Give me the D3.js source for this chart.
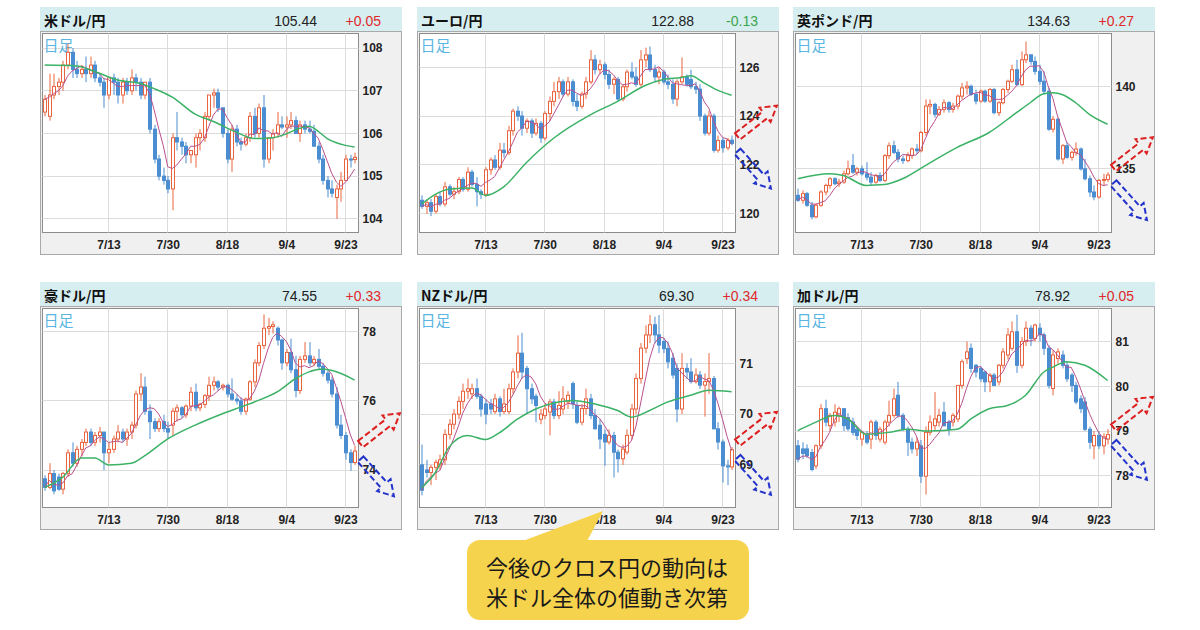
<!DOCTYPE html>
<html>
<head>
<meta charset="utf-8">
<script src="https://cdn.jsdelivr.net/npm/d3@7"></script>
<style>
  body { margin: 0; background: #fff; }
  svg { display: block; }
</style>
</head>
<body>
<svg id="chart" width="1200" height="630"></svg>
<script>
// ---- data ----
const pairNames = ['米ドル/円', 'ユーロ/円', '英ポンド/円', '豪ドル/円', 'NZドル/円', '加ドル/円'];
const lastPrices = ['105.44', '122.88', '134.63', '74.55', '69.30', '78.92'];
const changes = ['+0.05', '-0.13', '+0.27', '+0.33', '+0.34', '+0.05'];
const yTicks = [[104, 105, 106, 107, 108], [120, 122, 124, 126], [135, 140], [74, 76, 78], [69, 70, 71], [78, 79, 80, 81]];
const yDomains = [[103.68, 108.34], [119.23, 127.38], [131.15, 143.19], [72.92, 78.67], [68.16, 72.08], [77.29, 81.74]];
const xTickLabels = ['7/13', '7/30', '8/18', '9/4', '9/23'];

// trading days 6/23 - 9/25
const dates = d3.utcDay
  .range(new Date(Date.UTC(2020, 5, 23)), new Date(Date.UTC(2020, 8, 26)))
  .filter((d) => d.getUTCDay() % 6 !== 0);
const fmtDay = d3.utcFormat('%-m/%-d');

// [open, high, low, close]
const usdjpy = [
  [106.5,106.9,106.4,106.8],[106.4,107.4,106.3,106.9],[106.9,107.4,106.8,107.1],[107.1,107.3,106.9,107.2],
  [107.2,107.7,107.0,107.6],[107.6,108.1,107.5,107.9],[107.9,108.0,107.3,107.5],[107.5,107.7,107.3,107.4],
  [107.4,107.6,107.3,107.5],[107.5,107.8,107.2,107.4],[107.4,107.8,107.3,107.6],[107.6,107.7,107.2,107.3],
  [107.3,107.4,107.1,107.2],[107.2,107.3,106.6,106.9],[106.9,107.3,106.8,107.3],[107.3,107.4,106.9,107.2],
  [107.2,107.3,106.7,106.9],[106.9,107.3,106.7,107.2],[107.2,107.3,106.9,107.0],[107.0,107.5,106.9,107.3],
  [107.3,107.4,107.0,107.2],[107.2,107.3,106.8,106.9],[106.9,107.2,106.8,107.2],[107.2,107.3,106.0,106.1],
  [106.1,106.2,105.3,105.4],[105.4,105.5,104.9,105.0],[105.0,105.2,104.8,104.9],[104.9,105.0,104.6,104.7],
  [104.7,106.0,104.2,105.9],[105.9,106.5,105.6,105.8],[105.8,105.9,105.5,105.7],[105.7,105.8,105.3,105.5],
  [105.5,105.6,105.3,105.6],[105.5,106.0,105.2,105.9],[105.9,106.1,105.6,106.0],[105.9,106.5,105.8,106.4],
  [106.4,106.9,106.3,106.9],[106.9,107.05,106.6,106.95],[106.95,107.05,106.5,106.6],[106.6,106.6,105.9,106.0],
  [106.0,106.1,105.3,105.4],[105.4,106.2,105.1,106.1],[106.1,106.2,105.7,105.8],[105.8,105.9,105.6,105.75],
  [105.75,106.0,105.7,105.9],[105.9,106.5,105.8,106.4],[106.4,106.6,105.9,106.0],[106.0,106.7,105.9,106.6],
  [106.6,106.9,105.2,105.4],[105.4,105.9,105.3,105.9],[105.9,106.1,105.6,106.0],[106.0,106.5,105.9,106.2],
  [106.2,106.4,106.1,106.15],[106.15,106.4,105.9,106.2],[106.2,106.5,106.1,106.3],[106.3,106.4,106.0,106.0],
  [106.0,106.3,105.8,106.2],[106.2,106.3,106.0,106.1],[106.1,106.3,106.0,106.05],[106.05,106.2,105.7,105.7],
  [105.7,105.8,105.3,105.4],[105.4,105.5,104.8,104.9],[104.9,105.0,104.5,104.7],[104.7,104.9,104.5,104.6],
  [104.5,104.8,104.0,104.7],[104.7,105.1,104.4,104.9],[104.9,105.5,104.9,105.4],[105.4,105.5,105.2,105.39],
  [105.39,105.55,105.3,105.44]
];
const eurjpy = [
  [120.55,120.75,120.2,120.3],[120.3,120.6,120.0,120.45],[120.45,120.6,119.9,120.1],[120.1,120.8,120.0,120.7],
  [120.7,120.9,120.3,120.4],[120.4,121.3,120.3,121.1],[121.1,121.2,120.7,120.8],[120.8,121.1,120.6,120.9],
  [120.9,121.5,120.8,121.4],[121.4,121.5,120.9,121.0],[121.0,121.9,120.9,121.7],[121.7,121.8,121.1,121.2],
  [121.2,121.5,120.3,120.9],[120.9,121.0,120.6,120.8],[120.8,121.9,120.7,121.8],[121.8,122.3,121.6,122.2],
  [122.2,122.4,121.8,121.9],[121.9,122.9,121.8,122.6],[122.6,122.9,122.3,122.5],[122.5,123.6,122.4,123.4],
  [123.4,124.3,123.2,124.2],[124.2,124.4,123.8,124.0],[124.0,124.2,123.2,123.5],[123.5,123.9,123.3,123.8],
  [123.8,123.9,123.1,123.3],[123.3,123.9,123.2,123.7],[123.7,123.8,122.9,123.1],[123.1,124.2,123.0,124.1],
  [124.1,124.8,123.8,124.6],[124.6,125.4,124.4,125.0],[125.0,125.6,124.7,125.4],[125.4,125.5,124.8,124.9],
  [124.9,125.6,124.8,125.4],[125.4,125.5,124.4,124.6],[124.6,124.9,124.2,124.4],[124.4,125.0,124.3,124.9],
  [124.9,125.6,124.7,125.4],[125.4,126.7,125.3,126.3],[126.3,126.5,125.7,125.9],[125.9,126.3,125.7,126.1],
  [126.1,126.2,125.5,125.7],[125.7,125.9,125.1,125.3],[125.3,125.6,124.9,125.5],[125.5,125.6,124.6,124.7],
  [124.7,125.3,124.6,125.2],[125.2,125.9,125.0,125.8],[125.8,126.2,125.5,125.6],[125.6,126.0,125.2,125.3],
  [125.3,126.7,125.2,126.3],[126.3,126.8,126.0,126.5],[126.5,126.85,125.8,125.9],[125.9,126.1,125.4,125.6],
  [125.6,126.0,125.3,125.8],[125.8,125.9,125.3,125.4],[125.4,125.7,125.1,125.3],[125.3,125.5,124.5,124.7],
  [124.7,125.5,124.4,125.4],[125.4,126.4,125.3,125.6],[125.6,125.7,125.2,125.3],[125.5,125.9,125.1,125.2],
  [125.2,125.4,124.9,125.1],[125.1,125.3,123.8,124.0],[124.0,124.1,123.2,123.3],[123.3,124.2,123.2,124.0],
  [124.0,124.1,122.5,122.6],[122.6,123.2,122.5,123.0],[123.0,123.1,122.5,122.7],[122.7,123.1,122.6,123.01],
  [123.01,123.2,122.8,122.88]
];
const gbpjpy = [
  [133.4,133.8,133.0,133.1],[133.1,133.7,132.9,133.5],[133.5,133.6,132.7,132.8],[132.8,133.0,131.95,132.1],
  [132.1,132.9,132.0,132.8],[132.8,133.7,132.7,133.6],[133.6,134.1,133.4,134.0],[134.0,134.5,133.8,134.4],
  [134.4,134.5,134.0,134.1],[134.1,134.4,133.9,134.2],[134.2,134.9,134.1,134.7],[134.7,135.5,134.6,135.0],
  [135.2,135.9,134.7,134.8],[134.8,135.1,134.6,135.0],[135.0,135.2,134.6,134.7],[134.7,135.4,134.3,134.5],
  [134.5,134.8,134.0,134.2],[134.2,134.7,134.1,134.6],[134.6,134.8,134.2,134.3],[134.3,135.9,134.2,135.8],
  [135.8,136.6,135.6,136.4],[136.4,136.7,135.9,136.0],[136.0,136.2,135.4,135.6],[135.6,135.8,135.3,135.5],
  [135.5,136.0,135.4,135.8],[135.8,136.3,135.6,136.2],[136.2,136.5,135.9,136.1],[136.1,137.3,136.0,137.2],
  [137.2,139.2,137.0,138.8],[138.8,139.2,138.3,138.9],[138.9,139.0,138.1,138.3],[138.3,138.8,138.2,138.6],
  [138.6,139.2,138.4,139.0],[139.0,139.1,138.4,138.6],[138.6,139.0,138.4,138.8],[138.8,139.5,138.6,139.4],
  [139.4,140.2,139.2,139.9],[139.9,140.3,139.5,140.0],[140.0,140.1,139.4,139.5],[139.5,139.8,138.9,139.1],
  [139.1,139.8,139.0,139.7],[139.7,139.8,139.0,139.1],[139.1,139.9,139.0,139.8],[139.8,139.9,138.3,138.4],
  [138.4,139.1,138.2,139.0],[139.0,139.9,138.9,139.8],[139.8,140.4,139.6,140.3],[140.3,141.3,140.2,141.0],
  [141.0,141.6,140.0,140.1],[140.1,142.1,140.0,141.6],[141.6,142.7,141.4,141.9],[141.9,141.9,141.3,141.5],
  [141.5,141.8,140.7,140.9],[140.9,141.3,140.1,140.3],[140.3,140.9,139.5,139.7],[139.7,139.9,137.3,137.4],
  [137.4,138.2,137.2,138.0],[138.0,138.1,135.5,135.6],[135.6,136.5,135.3,136.4],[136.4,136.6,135.6,135.7],
  [135.7,136.1,135.5,136.0],[136.0,136.6,135.8,136.2],[136.2,136.3,134.9,135.0],[135.0,135.6,134.3,134.4],
  [134.4,134.6,133.3,133.6],[133.6,134.0,133.1,133.3],[133.3,134.4,133.2,134.3],[134.3,134.7,134.0,134.36],
  [134.36,134.8,134.2,134.63]
];
const audjpy = [
  [73.75,73.85,73.4,73.5],[73.5,74.2,73.45,73.9],[73.9,74.0,73.3,73.4],[73.8,73.9,73.4,73.45],
  [73.45,73.95,73.3,73.9],[73.9,74.6,73.8,74.5],[74.5,74.8,74.1,74.2],[74.2,74.7,74.1,74.6],
  [74.6,74.9,74.4,74.8],[74.8,75.2,74.7,75.1],[75.1,75.2,74.7,74.8],[74.8,75.1,74.7,75.0],
  [75.0,75.25,74.8,75.1],[75.1,75.1,74.0,74.5],[74.5,74.8,74.2,74.6],[74.6,75.0,74.5,74.9],
  [74.9,75.3,74.8,75.1],[75.1,75.2,74.8,74.9],[74.9,75.2,74.7,75.1],[75.1,75.4,74.9,75.3],
  [75.3,76.3,75.2,76.2],[76.2,76.8,76.0,76.4],[76.4,76.7,75.6,75.7],[75.7,75.9,74.9,75.4],
  [75.4,75.5,75.1,75.2],[75.2,75.5,75.1,75.4],[75.4,75.6,75.1,75.2],[75.2,75.4,74.9,75.1],
  [75.3,75.8,75.0,75.7],[75.7,75.9,75.4,75.8],[75.8,75.85,75.5,75.6],[75.6,75.9,75.5,75.85],
  [75.85,76.4,75.7,76.25],[76.25,76.5,75.7,75.8],[75.8,75.95,75.7,75.9],[75.9,76.2,75.8,76.15],
  [76.15,76.7,76.0,76.45],[76.45,76.7,76.3,76.55],[76.55,76.6,76.3,76.4],[76.4,76.5,76.3,76.45],
  [76.45,76.5,76.1,76.2],[76.2,76.65,76.0,76.05],[76.05,76.2,75.9,76.0],[76.0,76.1,75.6,75.7],
  [75.7,76.1,75.6,76.05],[76.05,76.6,76.0,76.55],[76.55,77.2,76.4,77.1],[77.1,77.7,77.0,77.6],
  [77.6,78.5,77.5,78.1],[78.1,78.4,77.9,78.15],[78.15,78.3,77.95,78.2],[78.1,78.15,77.6,77.76],
  [77.76,77.8,76.9,77.1],[77.1,77.5,77.0,77.4],[77.4,77.8,76.8,76.9],[76.9,77.3,76.1,76.3],
  [76.3,77.3,76.2,77.2],[77.2,77.7,77.1,77.3],[77.3,77.7,77.0,77.1],[77.1,77.3,77.0,77.2],
  [77.2,77.5,76.9,77.0],[77.0,77.1,76.7,76.8],[76.8,76.9,76.5,76.6],[76.6,76.7,76.1,76.2],
  [76.2,76.4,75.2,75.3],[75.3,75.6,74.9,75.0],[75.0,75.1,74.3,74.5],[74.5,74.6,73.98,74.22],
  [74.22,74.7,74.15,74.55]
];
const nzdjpy = [
  [69.0,69.4,68.4,68.5],[68.9,69.1,68.75,68.85],[68.85,69.0,68.6,68.95],[68.95,69.1,68.7,69.05],
  [69.0,69.2,68.9,69.1],[69.1,69.7,69.0,69.6],[69.6,69.9,69.5,69.8],[69.8,70.1,69.7,70.0],
  [70.0,70.35,69.9,70.25],[70.25,70.6,70.1,70.45],[70.45,70.7,70.3,70.5],[70.4,70.6,70.3,70.5],
  [70.5,70.7,70.3,70.35],[70.35,70.4,69.95,70.1],[70.2,70.3,69.8,70.0],[70.2,70.3,70.0,70.1],
  [70.05,70.4,70.0,70.3],[70.3,70.35,69.95,70.05],[70.05,70.5,70.0,70.2],[70.05,70.6,70.0,70.5],
  [70.5,70.9,70.4,70.83],[70.83,71.55,70.7,71.2],[71.2,71.6,70.7,70.83],[70.9,70.95,70.0,70.5],
  [70.5,70.6,70.2,70.3],[70.35,70.4,69.84,70.17],[69.9,70.1,69.8,70.0],[69.97,70.2,69.9,70.1],
  [70.04,70.3,69.58,70.24],[70.24,70.3,69.9,69.97],[69.97,70.45,69.9,70.17],[70.1,70.55,70.0,70.3],
  [70.24,70.45,70.1,70.37],[70.6,70.64,70.1,70.2],[70.17,70.25,69.8,69.84],[69.84,70.2,69.78,70.11],
  [70.11,70.5,70.0,70.3],[70.3,70.4,69.9,69.97],[69.97,70.1,69.7,69.71],[69.78,69.9,69.31,69.51],
  [69.6,69.7,68.98,69.45],[69.45,69.7,69.4,69.58],[69.58,69.65,68.75,69.25],[69.25,69.3,68.85,69.12],
  [69.12,69.4,69.0,69.31],[69.25,69.7,69.2,69.58],[69.58,70.2,69.5,70.1],[70.1,70.8,70.0,70.7],
  [70.7,71.4,70.6,71.3],[71.3,71.75,71.2,71.56],[71.56,71.95,71.4,71.76],[71.76,71.92,71.4,71.56],
  [71.56,71.95,71.2,71.36],[71.43,71.5,71.2,71.29],[71.29,71.43,70.9,71.03],[71.1,71.2,70.7,70.77],
  [70.9,71.0,69.84,70.1],[70.1,71.2,70.0,70.9],[70.9,71.0,70.7,70.83],[70.83,71.1,70.6,70.64],
  [70.64,70.9,70.6,70.77],[70.77,70.85,70.5,70.57],[70.57,70.8,69.95,70.64],[70.64,71.2,70.4,70.7],
  [70.7,70.75,69.7,69.71],[69.71,69.84,69.3,69.45],[69.45,69.5,68.65,68.98],[68.98,69.1,68.6,68.96],
  [68.96,69.35,68.9,69.30]
];
const cadjpy = [
  [78.67,78.8,78.3,78.37],[78.6,78.75,78.37,78.5],[78.6,78.7,78.4,78.45],[78.52,78.6,78.1,78.14],
  [78.22,78.7,78.15,78.67],[78.67,79.6,78.6,79.5],[79.5,79.7,79.1,79.2],[79.12,79.4,79.0,79.35],
  [79.2,79.6,79.1,79.42],[79.35,79.55,79.2,79.5],[79.5,79.5,79.0,79.12],[79.3,79.4,79.0,79.05],
  [79.2,79.3,78.9,78.97],[79.04,79.1,78.8,78.9],[78.82,79.0,78.67,78.97],[78.9,79.0,78.7,78.75],
  [78.82,79.25,78.6,79.2],[79.2,79.25,78.8,78.9],[78.82,79.1,78.75,79.04],[78.75,79.25,78.7,79.2],
  [79.2,79.68,79.1,79.35],[79.35,79.95,79.3,79.72],[79.8,80.1,79.3,79.35],[79.35,79.4,79.0,79.04],
  [79.04,79.1,78.44,78.75],[78.75,78.85,78.5,78.6],[78.6,78.85,78.44,78.75],[78.67,78.8,77.84,77.99],
  [77.99,79.1,77.58,78.97],[78.97,79.35,78.9,79.2],[79.12,79.87,79.0,79.27],[79.2,79.5,79.1,79.35],
  [79.42,79.65,79.1,79.12],[79.2,79.25,78.9,79.04],[79.2,79.4,79.1,79.35],[79.27,80.02,79.2,80.02],
  [80.02,80.6,79.95,80.55],[80.62,81.0,80.5,80.77],[80.85,80.96,80.3,80.4],[80.47,80.5,80.2,80.32],
  [80.4,80.45,80.1,80.17],[80.32,80.35,79.87,80.1],[80.1,80.3,79.87,80.25],[80.25,80.3,80.0,80.02],
  [80.1,80.5,80.02,80.47],[80.47,80.85,80.4,80.77],[80.7,81.3,80.6,81.15],[80.85,81.45,80.8,81.22],
  [81.22,81.6,80.3,80.47],[80.47,81.1,80.4,81.0],[81.0,81.45,80.9,81.3],[81.3,81.37,80.9,81.07],
  [81.07,81.4,81.0,81.37],[81.3,81.41,81.0,81.15],[81.15,81.2,80.7,80.85],[80.85,80.92,79.95,80.02],
  [79.95,80.8,79.8,80.7],[80.62,80.85,80.5,80.77],[80.7,80.8,80.4,80.47],[80.47,80.55,80.1,80.17],
  [80.25,80.3,79.87,80.02],[80.02,80.1,79.6,79.65],[79.72,79.8,79.4,79.5],[79.65,79.76,79.0,79.04],
  [79.04,79.1,78.6,78.75],[78.67,79.0,78.37,78.9],[78.9,79.0,78.6,78.67],[78.67,78.95,78.48,78.87],
  [78.82,79.04,78.7,78.92]
];

// 25-day moving average: [day index, value]
const usdjpyMa25 = [[0,107.6],[7,107.58],[11,107.45],[16,107.25],[21,107.17],[24,107.05],[28,106.85],[33,106.45],[37,106.28],[42,106.03],[46,105.88],[50,105.9],[52,105.95],[56,106.12],[58,106.17],[60,106.05],[62,105.88],[64,105.78],[66,105.72],[68,105.68]];
const eurjpyMa25 = [[0,120.4],[6,121.0],[11,121.05],[14,120.75],[18,121.1],[23,122.1],[29,123.1],[37,124.05],[43,124.6],[49,125.25],[53,125.5],[57,125.58],[59,125.65],[62,125.35],[65,125.05],[68,124.85]];
const gbpjpyMa25 = [[0,134.4],[7,134.7],[10,134.6],[15,134.0],[19,134.05],[23,134.4],[28,135.2],[35,136.3],[42,137.2],[48,138.4],[51,139.0],[54,139.55],[56,139.6],[58,139.5],[61,139.0],[64,138.3],[68,137.7]];
const audjpyMa25 = [[0,73.5],[4,73.8],[8,74.35],[11,74.35],[14,74.15],[19,74.2],[22,74.42],[27,74.9],[33,75.3],[39,75.63],[44,75.87],[46,75.97],[51,76.26],[55,76.64],[58,76.84],[61,76.92],[64,76.84],[68,76.6]];
const nzdjpyMa25 = [[0,68.55],[3,68.85],[6,69.35],[10,69.58],[14,69.5],[17,69.63],[21,69.9],[25,70.1],[30,70.24],[33,70.27],[38,70.2],[43,70.07],[46,69.94],[50,70.07],[54,70.24],[59,70.37],[63,70.47],[68,70.44]];
const cadjpyMa25 = [[0,79.01],[4,79.2],[8,79.35],[11,79.27],[15,78.93],[20,78.97],[24,79.04],[29,79.0],[35,79.04],[38,79.27],[42,79.5],[46,79.57],[50,79.8],[54,80.32],[56,80.43],[59,80.55],[63,80.47],[68,80.13]];

const candles = [usdjpy, eurjpy, gbpjpy, audjpy, nzdjpy, cadjpy];
const ma25 = [usdjpyMa25, eurjpyMa25, gbpjpyMa25, audjpyMa25, nzdjpyMa25, cadjpyMa25];
const showArrows = [false, true, true, true, true, true];

const calloutLines = ['今後のクロス円の動向は', '米ドル全体の値動き次第'];

// ---- layout ----
const panelX = [40, 417, 793];
const panelY = [7, 282];
const panelW = 362;
const headerH = 24;
const plotLeft = 2, plotTop = 26, plotW = 316, plotH = 199;
const bodyH = 247;

const upColor = '#e8643f';
const downColor = '#4a8dd0';
const jpFont = '"Noto Sans CJK JP", sans-serif';
const numFont = '"Liberation Sans", Arial, sans-serif';

const svg = d3.select('#chart');

// x scale shared by all panels (day index)
const x = d3.scaleLinear().domain([-0.48, 68.85]).range([0, plotW]);
const dayLabels = dates.map(fmtDay);

// fat arrow outline pointing along +x, rotated later
const arrowShape = (len, shaftW, headW, headL) => [
  [0, -shaftW], [len - headL, -shaftW], [len - headL, -headW], [len, 0],
  [len - headL, headW], [len - headL, shaftW], [0, shaftW]
];

candles.forEach((data, k) => {
  const col = k % 3, row = Math.floor(k / 3);
  const g = svg.append('g').attr('transform', `translate(${panelX[col]},${panelY[row]})`);

  // header band
  g.append('rect').attr('x', 0).attr('y', 0).attr('width', panelW).attr('height', headerH).attr('fill', '#d7eef1');
  g.append('text').attr('x', 4).attr('y', 19).attr('font-family', jpFont).attr('font-weight', 'bold')
    .attr('font-size', 14).attr('fill', '#111').text(pairNames[k]);
  g.append('text').attr('x', 277).attr('y', 19).attr('text-anchor', 'end').attr('font-family', numFont)
    .attr('font-size', 14).attr('fill', '#222').text(lastPrices[k]);
  g.append('text').attr('x', 341).attr('y', 19).attr('text-anchor', 'end').attr('font-family', numFont)
    .attr('font-size', 14).attr('fill', changes[k].startsWith('-') ? '#3aa54a' : '#e0282a').text(changes[k]);

  // body frame (grey) and white plot area
  g.append('rect').attr('x', 0.5).attr('y', headerH + 0.5).attr('width', panelW - 1).attr('height', bodyH - headerH)
    .attr('fill', '#f1f0f0').attr('stroke', '#a9a9a9');
  g.append('rect').attr('x', plotLeft + 0.5).attr('y', plotTop + 0.5).attr('width', plotW).attr('height', plotH)
    .attr('fill', '#fff').attr('stroke', '#8c8c8c');

  const plot = g.append('g').attr('transform', `translate(${plotLeft + 0.5},${plotTop + 0.5})`);
  const y = d3.scaleLinear().domain(yDomains[k]).range([plotH, 0]);

  plot.append('clipPath').attr('id', `clip${k}`)
    .append('rect').attr('width', plotW).attr('height', plotH);

  // grid lines
  const tickIdx = xTickLabels.map((t) => dayLabels.indexOf(t));
  plot.selectAll('.vgrid').data(tickIdx).join('line')
    .attr('x1', (d) => Math.round(x(d))).attr('x2', (d) => Math.round(x(d)))
    .attr('y1', 0).attr('y2', plotH).attr('stroke', '#dcdcdc');
  plot.selectAll('.hgrid').data(yTicks[k]).join('line')
    .attr('x1', 0).attr('x2', plotW)
    .attr('y1', (d) => Math.round(y(d))).attr('y2', (d) => Math.round(y(d))).attr('stroke', '#dcdcdc');

  // "日足" label
  plot.append('text').attr('x', 1).attr('y', 17).attr('font-family', jpFont).attr('font-size', 15)
    .attr('fill', '#5bb5e2').text('日足');

  // axes labels
  const yAxis = d3.axisRight(y).tickValues(yTicks[k]).tickFormat(d3.format('d')).tickSize(0).tickPadding(4);
  plot.append('g').attr('transform', `translate(${plotW},0)`).call(yAxis)
    .call((a) => a.select('.domain').remove())
    .call((a) => a.selectAll('text').attr('font-family', numFont).attr('font-size', 12)
      .attr('font-weight', 'bold').attr('fill', '#222'));
  const xAxis = d3.axisBottom(x).tickValues(tickIdx).tickFormat((d) => dayLabels[d]).tickSize(0).tickPadding(8);
  plot.append('g').attr('transform', `translate(0,${plotH})`).call(xAxis)
    .call((a) => a.select('.domain').remove())
    .call((a) => a.selectAll('text').attr('font-family', numFont).attr('font-size', 12)
      .attr('font-weight', 'bold').attr('fill', '#222'));

  const marks = plot.append('g').attr('clip-path', `url(#clip${k})`);

  // candles
  const bars = marks.selectAll('.candle').data(data).join('g').attr('class', 'candle');
  bars.append('line')
    .attr('x1', (d, i) => Math.round(x(i)) + 0.5).attr('x2', (d, i) => Math.round(x(i)) + 0.5)
    .attr('y1', (d) => y(d[1])).attr('y2', (d) => y(d[2]))
    .attr('stroke', (d) => (d[3] >= d[0] ? upColor : downColor));
  bars.append('rect')
    .attr('x', (d, i) => Math.round(x(i)) - 1)
    .attr('y', (d) => y(Math.max(d[0], d[3])))
    .attr('width', 3)
    .attr('height', (d) => Math.max(1, Math.abs(y(d[0]) - y(d[3]))))
    .attr('fill', (d) => (d[3] >= d[0] ? '#fff' : downColor))
    .attr('stroke', (d) => (d[3] >= d[0] ? upColor : downColor))
    .attr('stroke-width', 1);

  // 5-day moving average from closes
  const closes = data.map((d) => d[3]);
  const ma5 = closes.map((c, i) => d3.mean(closes.slice(Math.max(0, i - 4), i + 1)));
  marks.append('path').datum(ma5)
    .attr('d', d3.line().x((d, i) => x(i)).y((d) => y(d)))
    .attr('fill', 'none').attr('stroke', '#b8508c').attr('stroke-width', 1);

  // 25-day moving average
  marks.append('path').datum(ma25[k])
    .attr('d', d3.line().curve(d3.curveMonotoneX).x((d) => x(d[0])).y((d) => y(d[1])))
    .attr('fill', 'none').attr('stroke', '#3bb266').attr('stroke-width', 1.5);

  // up / down arrows next to the latest price
  if (showArrows[k]) {
    const yLast = y(closes[closes.length - 1]);
    const shape = arrowShape(50, 4, 9, 15);
    const arrows = [
      { dy: -7, angle: -38, color: '#dd1f1f' },
      { dy: 8, angle: 48, color: '#2233cc' }
    ];
    arrows.forEach((a) => {
      plot.append('polygon')
        .attr('points', shape.map((p) => p.join(',')).join(' '))
        .attr('transform', `translate(${plotW + 2},${yLast + a.dy}) rotate(${a.angle})`)
        .attr('fill', 'none').attr('stroke', a.color).attr('stroke-width', 2)
        .attr('stroke-dasharray', '6,3');
    });
  }
});

// callout
const callout = svg.append('g');
callout.append('polygon').attr('points', '512,545 603,511 585,545').attr('fill', '#f6d34d');
callout.append('rect').attr('x', 467).attr('y', 540).attr('width', 282).attr('height', 80).attr('rx', 13)
  .attr('fill', '#f6d34d');
callout.selectAll('text').data(calloutLines).join('text')
  .attr('x', 607).attr('y', (d, i) => 576 + i * 30)
  .attr('text-anchor', 'middle').attr('font-family', jpFont).attr('font-size', 22).attr('fill', '#1a1a1a')
  .text((d) => d);
</script>
</body>
</html>
